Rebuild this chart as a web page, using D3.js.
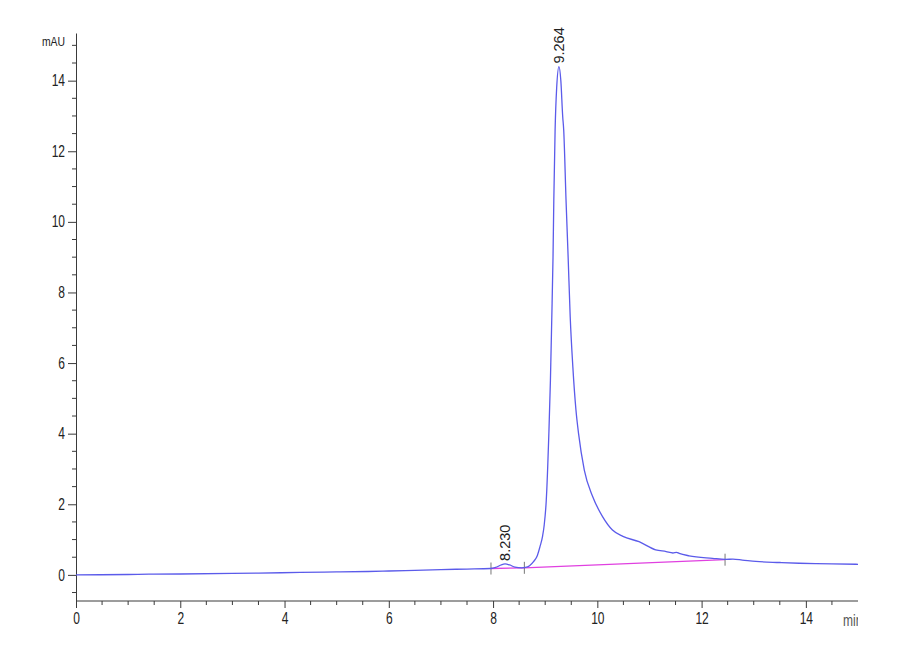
<!DOCTYPE html>
<html>
<head>
<meta charset="utf-8">
<script src="https://cdn.jsdelivr.net/npm/d3@7"></script>
<style>
	body { margin: 0; background: #fff; }
	svg { display: block; }
	.narrow { font-family: 'Liberation Sans', Arial, sans-serif; }
</style>
</head>
<body>
<div id="chart"></div>
<script>
// signal trace, retention time (min) vs absorbance (mAU)
let times = [0, 1.0, 1.4, 2.0, 3.0, 3.5, 4.3, 5.0, 5.6, 6.0, 6.5, 7.0, 7.5, 7.95,
	8.05, 8.15, 8.23, 8.32, 8.42, 8.55, 8.62, 8.70, 8.78, 8.85, 8.90, 8.95, 8.98,
	9.02, 9.07, 9.10, 9.125, 9.15, 9.165, 9.19, 9.22, 9.264, 9.30, 9.335, 9.355,
	9.40, 9.44, 9.48, 9.53, 9.59, 9.64, 9.75, 9.91, 10.10, 10.29, 10.49, 10.80,
	11.12, 11.32, 11.45, 11.52, 11.57, 11.76, 12.21, 12.46, 12.6, 12.78,
	13.04, 13.5, 13.87, 14.2, 14.5, 15.0]
let mau = [0.0, 0.01, 0.02, 0.025, 0.04, 0.05, 0.07, 0.085, 0.095, 0.11, 0.13, 0.15, 0.165, 0.18,
	0.21, 0.28, 0.31, 0.28, 0.22, 0.20, 0.21, 0.26, 0.38, 0.55, 0.80, 1.10, 1.4,
	2.1, 4.0, 5.5, 7.2, 9.0, 10.6, 12.6, 13.8, 14.4, 14.0, 13.0, 12.6,
	10.6, 9.0, 7.3, 5.9, 4.67, 4.0, 2.97, 2.22, 1.65, 1.27, 1.09, 0.94,
	0.71, 0.66, 0.62, 0.64, 0.61, 0.54, 0.47, 0.44, 0.445, 0.42,
	0.38, 0.35, 0.33, 0.32, 0.31, 0.30]

// integration baseline (start/end of each segment)
let baseTimes = [7.96, 8.6, 12.45]
let baseMau = [0.18, 0.20, 0.43]

// peak annotations
let peakTimes = [8.230, 9.264]
let peakLabels = ['8.230', '9.264']

let xTicks = [0, 2, 4, 6, 8, 10, 12, 14]
let yTicks = [0, 2, 4, 6, 8, 10, 12, 14]

let W = 900
let H = 660
let mLeft = 76
let mRight = 858
let mBottom = 601
let mTop = 33
let squeeze = 0.75 // instrument font is condensed

let svg = d3.select('#chart')
	.append('svg')
	.attr('width', W)
	.attr('height', H)

let x = d3.scaleLinear().domain([0, 15]).range([mLeft, mRight])
let y = d3.scaleLinear().domain([-0.74, 15.35]).range([mBottom, mTop])

let axisColor = '#3a3a3a'

// minor ticks every 0.5
let xMinor = d3.range(0.5, 15, 0.5).filter(d => d % 2 !== 0)
let yMinor = d3.range(-0.5, 15.01, 0.5).filter(d => d % 2 !== 0)

let xAxis = svg.append('g')
	.attr('transform', `translate(0,${mBottom})`)
	.call(d3.axisBottom(x).tickValues(xTicks).tickSize(7).tickPadding(5).tickSizeOuter(0))
xAxis.select('.domain').attr('stroke', axisColor).attr('d', `M${mLeft},0H${mRight}`)
xAxis.selectAll('.tick line').attr('stroke', axisColor)
xAxis.selectAll('.tick text')
	.attr('class', 'narrow')
	.attr('font-size', 16)
	.attr('fill', '#222')
	.attr('transform', `scale(${squeeze},1)`)

xAxis.selectAll('.minor')
	.data(xMinor)
	.join('line')
	.attr('class', 'minor')
	.attr('x1', d => x(d))
	.attr('x2', d => x(d))
	.attr('y1', 0)
	.attr('y2', 4)
	.attr('stroke', axisColor)

let yAxis = svg.append('g')
	.attr('transform', `translate(${mLeft},0)`)
	.call(d3.axisLeft(y).tickValues(yTicks).tickSize(8).tickPadding(3).tickSizeOuter(0))
yAxis.select('.domain').attr('stroke', axisColor)
yAxis.selectAll('.tick line').attr('stroke', axisColor)
yAxis.selectAll('.tick text')
	.attr('class', 'narrow')
	.attr('font-size', 16)
	.attr('fill', '#222')
	.attr('x', 0)
	.attr('transform', `translate(-11,0) scale(${squeeze},1)`)

yAxis.selectAll('.minor')
	.data(yMinor)
	.join('line')
	.attr('class', 'minor')
	.attr('x1', -4)
	.attr('x2', 0)
	.attr('y1', d => y(d))
	.attr('y2', d => y(d))
	.attr('stroke', axisColor)

// axis units
svg.append('text')
	.attr('class', 'narrow')
	.attr('transform', `translate(65,46) scale(${squeeze + 0.05},1)`)
	.attr('text-anchor', 'end')
	.attr('font-size', 13)
	.attr('fill', '#222')
	.text('mAU')

svg.append('clipPath')
	.attr('id', 'unitclip')
	.append('rect')
	.attr('x', 0).attr('y', 0)
	.attr('width', mRight).attr('height', H)

svg.append('g')
	.attr('clip-path', 'url(#unitclip)')
	.append('text')
	.attr('class', 'narrow')
	.attr('transform', `translate(843,626) scale(${squeeze},1)`)
	.attr('font-size', 16)
	.attr('fill', '#555')
	.text('min')

// integration baseline
let base = baseTimes.map((t, i) => [t, baseMau[i]])
svg.append('path')
	.datum(base)
	.attr('fill', 'none')
	.attr('stroke', '#e040e0')
	.attr('stroke-width', 1.3)
	.attr('d', d3.line().x(d => x(d[0])).y(d => y(d[1])))

svg.selectAll('.dropline')
	.data(base)
	.join('line')
	.attr('class', 'dropline')
	.attr('x1', d => x(d[0]))
	.attr('x2', d => x(d[0]))
	.attr('y1', d => y(d[1]) - 6)
	.attr('y2', d => y(d[1]) + 6)
	.attr('stroke', '#777')
	.attr('stroke-width', 1)

// trace
let pts = times.map((t, i) => [t, mau[i]])
svg.append('path')
	.datum(pts)
	.attr('fill', 'none')
	.attr('stroke', '#5b5bea')
	.attr('stroke-width', 1.3)
	.attr('d', d3.line().curve(d3.curveMonotoneX).x(d => x(d[0])).y(d => y(d[1])))

// peak labels, rotated, just above each apex
peakTimes.forEach((t, i) => {
	let k = d3.leastIndex(times, a => Math.abs(a - t))
	let px = x(t) + 5
	let py = y(mau[k]) - 3
	svg.append('text')
		.attr('transform', `translate(${px},${py}) rotate(-90)`)
		.attr('font-family', 'Liberation Sans, Arial, sans-serif')
		.attr('font-size', 14.5)
		.attr('fill', '#222')
		.text(peakLabels[i])
})
</script>
</body>
</html>
